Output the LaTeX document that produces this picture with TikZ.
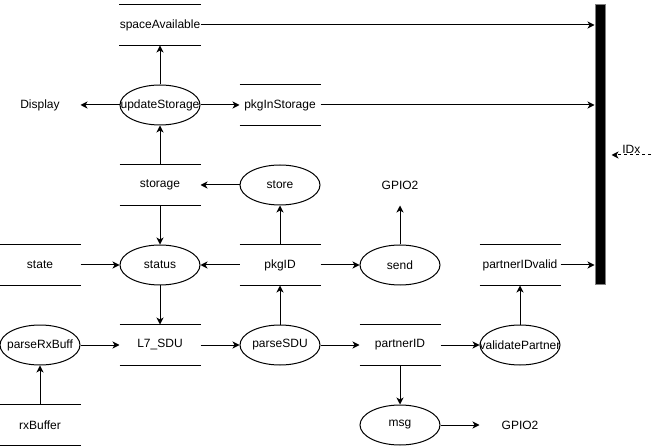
\documentclass[tikz,border=0pt]{standalone}
\usepackage{fontspec}
\setmainfont{Liberation Sans}
\usetikzlibrary{shapes.geometric,arrows.meta}
\newcommand\zb[1]{\makebox[0pt]{#1}}
\begin{document}
\begin{tikzpicture}[x=1pt,y=-1pt, line width=1pt, font=\fontsize{12}{14}\selectfont,
 proc/.style={ellipse,draw,fill=white,minimum width=80pt,minimum height=40pt,inner sep=0pt},
 dstore/.style={minimum width=80pt,minimum height=40pt,inner sep=0pt},
 ext/.style={minimum width=80pt,minimum height=40pt,inner sep=0pt},
 flow/.style={-{Stealth[length=7pt,width=7pt,inset=2pt]}},
]
\useasboundingbox (0,0) rectangle (661,446);
\node[dstore] (sa) at (160,25) {spaceAvailable};
\node[proc] (us) at (160,105) {\zb{updateStorage}};
\node[ext] (disp) at (40,105) {Display};
\node[dstore] (pis) at (280,105) {pkgInStorage};
\node[dstore] (stor) at (160,185) {storage};
\node[proc] (store) at (280,185) {\zb{store}};
\node[ext] (gpioa) at (400,185) {GPIO2};
\node[dstore] (state) at (40,265) {state};
\node[proc] (status) at (160,265) {\zb{status}};
\node[dstore] (pkg) at (280,265) {pkgID};
\node[proc] (send) at (400,265) {\zb{send}};
\node[dstore] (piv) at (520,265) {partnerIDvalid};
\node[proc] (prb) at (40,345) {\zb{parseRxBuff}};
\node[dstore] (l7) at (160,345) {L7\_SDU};
\node[proc] (psdu) at (280,345) {\zb{parseSDU}};
\node[dstore] (pid) at (400,345) {partnerID};
\node[proc] (vp) at (520,345) {\zb{validatePartner}};
\node[dstore] (rx) at (40,425) {rxBuffer};
\node[proc] (msg) at (400,425) {\zb{msg}};
\node[ext] (gpiob) at (520,425) {GPIO2};
\node[draw=gray, fill=black, minimum width=10pt, minimum height=280pt, inner sep=0pt] (bar) at (600,145) {};

\foreach \n in {sa,pis,stor,state,pkg,piv,l7,pid,rx}
  \draw (\n.north west) -- (\n.north east) (\n.south west) -- (\n.south east);

\draw[flow] (sa.east) -- (sa.east -| bar.west);
\draw[flow] (us.north) -- (sa.south);
\draw[flow] (us.west) -- (disp.east);
\draw[flow] (us.east) -- (pis.west);
\draw[flow] (pis.east) -- (pis.east -| bar.west);
\draw[flow] (stor.north) -- (us.south);
\draw[flow] (store.west) -- (stor.east);
\draw[flow] (stor.south) -- (status.north);
\draw[flow] (state.east) -- (status.west);
\draw[flow] (pkg.west) -- (status.east);
\draw[flow] (pkg.east) -- (send.west);
\draw[flow] (pkg.north) -- (store.south);
\draw[flow] (send.north) -- (gpioa.south);
\draw[flow] (piv.east) -- (piv.east -| bar.west);
\draw[flow] (status.south) -- (l7.north);
\draw[flow] (prb.east) -- (l7.west);
\draw[flow] (rx.north) -- (prb.south);
\draw[flow] (l7.east) -- (psdu.west);
\draw[flow] (psdu.north) -- (pkg.south);
\draw[flow] (psdu.east) -- (pid.west);
\draw[flow] (pid.east) -- (vp.west);
\draw[flow] (vp.north) -- (piv.south);
\draw[flow] (pid.south) -- (msg.north);
\draw[flow] (msg.east) -- (gpiob.west);

\coordinate (idxs) at (651,155);
\draw[flow, dash pattern=on 3pt off 3pt] (idxs) -- node[above, inner sep=0.5pt]{IDx} ([xshift=6pt]bar.east |- idxs);
\end{tikzpicture}
\end{document}
